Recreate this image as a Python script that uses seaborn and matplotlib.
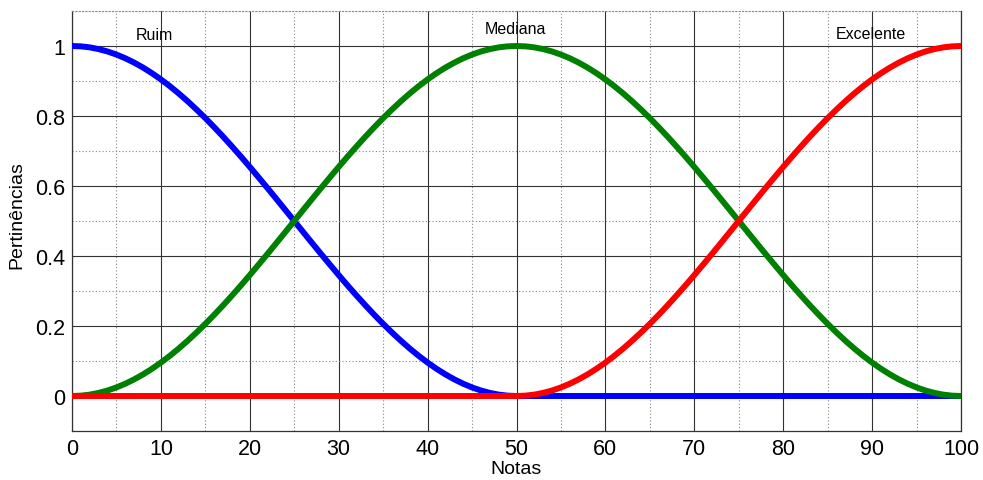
import matplotlib
matplotlib.use("Agg")
import matplotlib.pyplot as plt
import seaborn as sns
import pandas as pd
from matplotlib.ticker import MultipleLocator

notas = list(range(0, 101))

ruim = [1.0, 0.9990, 0.9961, 0.9911, 0.9843, 0.9755, 0.9649, 0.9524, 0.9382, 0.9222,
        0.9045, 0.8853, 0.8645, 0.8423, 0.8187, 0.7939, 0.7679, 0.7409, 0.7129, 0.6841,
        0.6545, 0.6243, 0.5937, 0.5627, 0.5314, 0.5, 0.4686, 0.4373, 0.4063, 0.3757,
        0.3455, 0.3159, 0.2871, 0.2591, 0.2321, 0.2061, 0.1813, 0.1577, 0.1355, 0.1147,
        0.0955, 0.0778, 0.0618, 0.0476, 0.0351, 0.0245, 0.0157, 0.0089, 0.0039, 0.0010,
        0.0,
        0, 0, 0, 0, 0, 0, 0, 0, 0, 0, 0, 0, 0, 0, 0, 0, 0, 0, 0, 0, 0, 0, 0, 0, 0,
        0, 0, 0, 0, 0, 0, 0, 0, 0, 0, 0, 0, 0, 0, 0, 0, 0, 0, 0, 0, 0, 0, 0, 0, 0]

mediana = [0.0, 0.0010, 0.0039, 0.0089, 0.0157, 0.0245, 0.0351, 0.0476, 0.0618, 0.0778,
           0.0955, 0.1147, 0.1355, 0.1577, 0.1813, 0.2061, 0.2321, 0.2591, 0.2871, 0.3159,
           0.3455, 0.3757, 0.4063, 0.4373, 0.4686, 0.5, 0.5314, 0.5627, 0.5937, 0.6243,
           0.6545, 0.6841, 0.7129, 0.7409, 0.7679, 0.7939, 0.8187, 0.8423, 0.8645, 0.8853,
           0.9045, 0.9222, 0.9382, 0.9524, 0.9649, 0.9755, 0.9843, 0.9911, 0.9961, 0.9990,
           1.0,
           0.9990, 0.9961, 0.9911, 0.9843, 0.9755, 0.9649, 0.9524, 0.9382, 0.9222, 0.9045,
           0.8853, 0.8645, 0.8423, 0.8187, 0.7939, 0.7679, 0.7409, 0.7129, 0.6841, 0.6545,
           0.6243, 0.5937, 0.5627, 0.5314, 0.5, 0.4686, 0.4373, 0.4063, 0.3757, 0.3455,
           0.3159, 0.2871, 0.2591, 0.2321, 0.2061, 0.1813, 0.1577, 0.1355, 0.1147, 0.0955,
           0.0778, 0.0618, 0.0476, 0.0351, 0.0245, 0.0157, 0.0089, 0.0039, 0.0010, 0.0]

excelente = [0, 0, 0, 0, 0, 0, 0, 0, 0, 0, 0, 0, 0, 0, 0, 0, 0, 0, 0, 0, 0, 0, 0, 0, 0,
             0, 0, 0, 0, 0, 0, 0, 0, 0, 0, 0, 0, 0, 0, 0, 0, 0, 0, 0, 0, 0, 0, 0, 0, 0,
             0.0,
             0.0010, 0.0039, 0.0089, 0.0157, 0.0245, 0.0351, 0.0476, 0.0618, 0.0778, 0.0955,
             0.1147, 0.1355, 0.1577, 0.1813, 0.2061, 0.2321, 0.2591, 0.2871, 0.3159, 0.3455,
             0.3757, 0.4063, 0.4373, 0.4686, 0.5, 0.5314, 0.5627, 0.5937, 0.6243, 0.6545,
             0.6841, 0.7129, 0.7409, 0.7679, 0.7939, 0.8187, 0.8423, 0.8645, 0.8853, 0.9045,
             0.9222, 0.9382, 0.9524, 0.9649, 0.9755, 0.9843, 0.9911, 0.9961, 0.9990, 1.0]

labels = ["Ruim", "Mediana", "Excelente"]
label_x = [9.3, 49.9, 89.9]
label_y = [1.034, 1.049, 1.037]

sns.set_theme(style="white")
plt.rcParams['font.family'] = ['Liberation Sans', 'DejaVu Sans']

fig = plt.figure(figsize=(9.83, 4.81), dpi=100)
ax = fig.add_axes([72/983, 1 - 432/481, (961-72)/983, (432-12)/481])

df = pd.DataFrame({"Notas": notas, "Ruim": ruim, "Mediana": mediana, "Excelente": excelente})
sns.lineplot(data=df, x="Notas", y="Ruim", ax=ax, color="#0000ff", linewidth=4.3, zorder=3)
sns.lineplot(data=df, x="Notas", y="Mediana", ax=ax, color="#008000", linewidth=4.3, zorder=4)
sns.lineplot(data=df, x="Notas", y="Excelente", ax=ax, color="#ff0000", linewidth=4.3, zorder=5)

ax.set_xlim(0, 100)
ax.set_ylim(-0.1, 1.1)
ax.xaxis.set_major_locator(MultipleLocator(10))
ax.xaxis.set_minor_locator(MultipleLocator(5))
ax.set_yticks([0, 0.2, 0.4, 0.6, 0.8, 1])
ax.set_yticklabels(["0", "0.2", "0.4", "0.6", "0.8", "1"])
ax.yaxis.set_minor_locator(MultipleLocator(0.1))

ax.grid(which="major", color="#333333", linestyle="-", linewidth=0.8)
ax.grid(which="minor", color="#888888", linestyle=(0, (1, 2)), linewidth=0.8)
ax.set_axisbelow(True)

ax.tick_params(axis="both", which="major", labelsize=15.5, length=0, pad=5, colors="black")
ax.tick_params(axis="both", which="minor", length=0)

for s in ["left", "bottom", "right"]:
    ax.spines[s].set_color("#333333")
    ax.spines[s].set_linewidth(0.9)
ax.spines["top"].set_color("#888888")
ax.spines["top"].set_linestyle((0, (1, 2)))
ax.spines["top"].set_linewidth(0.8)

ax.set_xlabel("Notas", fontsize=14, color="black")
ax.set_ylabel("Pertinências", fontsize=14, color="black")
ax.xaxis.set_label_coords(0.5, -0.07)
ax.yaxis.set_label_coords(-0.052, 0.517)

for t, x, y in zip(labels, label_x, label_y):
    ax.text(x, y, t, ha="center", va="center", fontsize=11.5, color="black")

fig.savefig("out.png", dpi=100)
